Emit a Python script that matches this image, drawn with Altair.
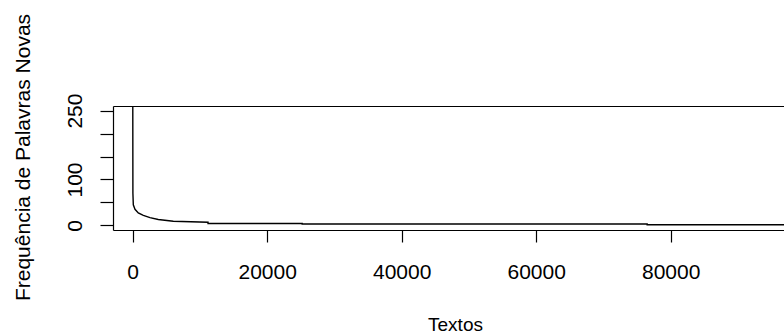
import altair as alt
import pandas as pd

# Values (sorted counts of new words per text)
textos = [0, 30, 90, 340, 830, 1580, 2570, 3800, 6040, 11200, 11200, 25200, 25200, 76500, 76500, 100000]
freq = [400, 70, 45, 35, 27, 22, 17, 13, 9, 7, 4, 4, 3, 3, 1.5, 1.5]

x_ticks = [0, 20000, 40000, 60000, 80000, 100000]
y_ticks = [0, 50, 100, 150, 200, 250]

df = pd.DataFrame({"Textos": textos, "Freq": freq, "ordem": list(range(len(textos)))})

FONT = "Liberation Sans"

xscale = alt.Scale(domain=[-2930, 96850], nice=False, zero=False)
yscale = alt.Scale(domain=[-10, 260], nice=False, zero=False)

base = alt.Chart(df)

line = base.mark_line(color="black", strokeWidth=1.4, clip=True).encode(
    x=alt.X("Textos:Q", scale=xscale,
            axis=alt.Axis(values=x_ticks, format="d", title="Textos", grid=False,
                          tickSize=12, tickColor="black", tickWidth=1.2,
                          domain=True, domainColor="black", domainWidth=1.2,
                          labelFont=FONT, labelFontSize=21, labelColor="black",
                          labelPadding=19, labelFlush=False, labelOverlap=False,
                          titleFont=FONT, titleFontSize=19, titleFontWeight="normal",
                          titleColor="black", titleX=342, titleY=100,
                          titleAlign="center", titleBaseline="alphabetic")),
    y=alt.Y("Freq:Q", scale=yscale,
            axis=alt.Axis(values=y_ticks, title="Frequência de Palavras Novas", grid=False,
                          labelExpr="(datum.value == 0 || datum.value == 100 || datum.value == 250) ? datum.label : ''",
                          tickSize=13, tickColor="black", tickWidth=1.2,
                          domain=True, domainColor="black", domainWidth=1.2,
                          labelFont=FONT, labelFontSize=21, labelColor="black",
                          labelAngle=-90, labelAlign="center", labelBaseline="alphabetic",
                          labelPadding=19, labelFlush=False, labelOverlap=False,
                          titleFont=FONT, titleFontSize=21, titleFontWeight="normal",
                          titleColor="black", titleAngle=-90, titleX=-84, titleY=51,
                          titleAlign="center", titleBaseline="alphabetic")),
    order="ordem:Q",
)

top = base.mark_point(opacity=0).encode(
    x=alt.X("Textos:Q", scale=xscale,
            axis=alt.Axis(orient="top", labels=False, ticks=False, grid=False, title=None,
                          domain=True, domainColor="black", domainWidth=1.2)),
)

chart = alt.layer(line, top).resolve_axis(x="independent").properties(
    width=671,
    height=124,
    autosize=alt.AutoSizeParams(type="none"),
    padding={"left": 113, "top": 106, "right": 0, "bottom": 104},
    background="white",
).configure_view(stroke=None)

chart.save("out.html", embed_options={"renderer": "svg", "actions": False})
